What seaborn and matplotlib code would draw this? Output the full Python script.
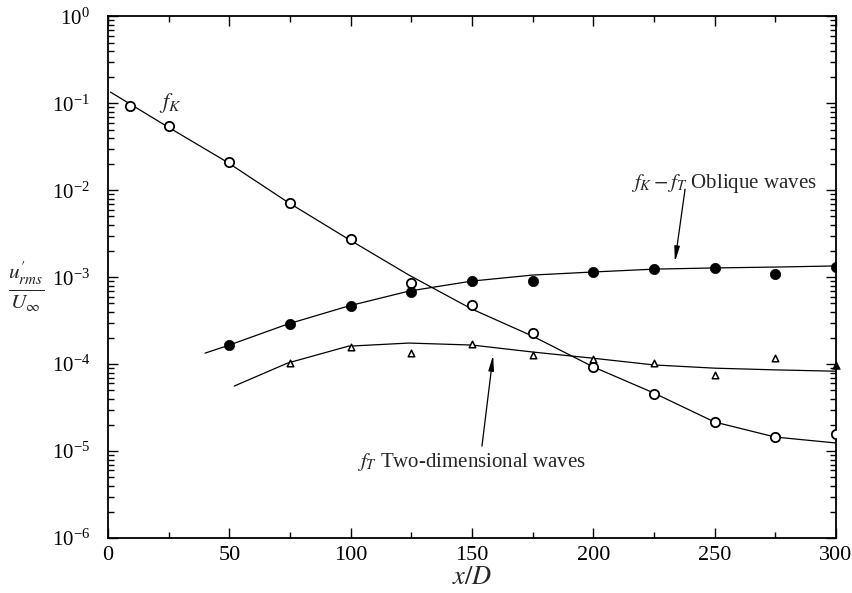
import numpy as np
import pandas as pd
import seaborn as sns
import matplotlib
matplotlib.use("Agg")
import matplotlib.pyplot as plt
from matplotlib.ticker import MultipleLocator, LogLocator, NullFormatter

# ---- data ----
# f_K (open circles)
fk_x = [9, 25, 50, 75, 100, 125, 150, 175, 200, 225, 250, 275, 300]
fk_y = [0.0933, 0.055, 0.0212, 0.00714, 0.00275, 8.6e-4, 4.8e-4, 2.28e-4,
        9.3e-5, 4.53e-5, 2.16e-5, 1.45e-5, 1.57e-5]
# f_K fitted curve
fk_cx = [1, 24, 49, 74, 99, 124, 150, 175, 200, 225, 250, 275, 300]
fk_cy = [0.135, 0.055, 0.0212, 0.00733, 0.00275, 0.00106, 4.3e-4, 2.1e-4,
         9.3e-5, 4.65e-5, 2.16e-5, 1.45e-5, 1.24e-5]

# f_K - f_T oblique waves (filled circles)
ob_x = [50, 75, 100, 125, 150, 175, 200, 225, 250, 275, 300]
ob_y = [1.66e-4, 2.9e-4, 4.66e-4, 6.76e-4, 9.04e-4, 9.0e-4, 1.15e-3,
        1.24e-3, 1.28e-3, 1.09e-3, 1.31e-3]
ob_cx = [40, 50, 74, 99, 124, 150, 175, 200, 225, 250, 275, 300]
ob_cy = [1.34e-4, 1.66e-4, 2.89e-4, 4.66e-4, 6.93e-4, 9.04e-4, 1.06e-3,
         1.15e-3, 1.24e-3, 1.28e-3, 1.31e-3, 1.35e-3]

# f_T two-dimensional waves (triangles)
ft_x = [75, 100, 125, 150, 175, 200, 225, 250, 275]
ft_y = [1.03e-4, 1.57e-4, 1.34e-4, 1.70e-4, 1.27e-4, 1.15e-4, 1.03e-4,
        7.5e-5, 1.17e-4]
ft_last_x = [300]
ft_last_y = [9.8e-5]
ft_cx = [52, 74, 99, 124, 150, 175, 200, 225, 250, 275, 300]
ft_cy = [5.6e-5, 1.03e-4, 1.61e-4, 1.75e-4, 1.66e-4, 1.38e-4, 1.17e-4,
         9.8e-5, 9.0e-5, 8.6e-5, 8.3e-5]

x_ticks = [0, 50, 100, 150, 200, 250, 300]

# ---- style ----
sns.set_style("ticks")
plt.rcParams["font.family"] = ["Liberation Serif", "DejaVu Serif"]
plt.rcParams["mathtext.fontset"] = "stix"

fig = plt.figure(figsize=(8.52, 5.93), dpi=100)
ax = fig.add_axes([0.1268, 0.0927, 0.9812 - 0.1268, 0.9722 - 0.0927])

lw = 0.9
sns.lineplot(x=fk_cx, y=fk_cy, ax=ax, color="black", lw=lw, sort=False)
sns.lineplot(x=ob_cx, y=ob_cy, ax=ax, color="black", lw=lw, sort=False)
sns.lineplot(x=ft_cx, y=ft_cy, ax=ax, color="black", lw=lw, sort=False)

sns.scatterplot(x=fk_x, y=fk_y, ax=ax, marker="o", s=45, facecolor="white",
                edgecolor="black", linewidth=1.3, zorder=5)
sns.scatterplot(x=ob_x, y=ob_y, ax=ax, marker="o", s=55, color="black",
                edgecolor="black", linewidth=0.5, zorder=5)
sns.scatterplot(x=ft_x, y=ft_y, ax=ax, marker="^", s=22, facecolor="white",
                edgecolor="black", linewidth=1.1, zorder=5)
sns.scatterplot(x=ft_last_x, y=ft_last_y, ax=ax, marker="^", s=30,
                color="black", edgecolor="black", linewidth=0.5, zorder=5,
                clip_on=False)

ax.set_yscale("log")
ax.set_xlim(0, 300)
ax.set_ylim(1e-6, 1)
ax.set_xticks(x_ticks)
ax.set_xticklabels([str(v) for v in x_ticks])
ax.xaxis.set_minor_locator(MultipleLocator(25))
ax.yaxis.set_major_locator(LogLocator(base=10, numticks=10))
ax.yaxis.set_minor_locator(LogLocator(base=10, subs=np.arange(2, 10), numticks=100))
ax.yaxis.set_minor_formatter(NullFormatter())

ax.tick_params(which="both", direction="in", top=True, right=True,
               width=1.0, colors="black")
ax.tick_params(axis="x", labelsize=16)
ax.tick_params(axis="y", labelsize=15)
ax.tick_params(which="major", length=7)
ax.tick_params(which="minor", length=4)
ax.tick_params(axis="y", which="major", pad=13)
ax.tick_params(axis="x", which="major", pad=6)
for sp in ax.spines.values():
    sp.set_linewidth(1.3)
    sp.set_color("black")

ax.set_xlabel(r"$x/D$", fontsize=19, labelpad=1)
ax.set_ylabel("")
fig.text(0.031, 0.516, r"$\frac{u^{\prime}_{rms}}{U_{\infty}}$", fontsize=22,
         ha="center", va="center")

ax.text(25.5, 0.101, r"$f_K$", fontsize=16, ha="center", va="center")
ax.text(215.5, 0.0121, r"$f_K - f_T$ Oblique waves", fontsize=15,
        ha="left", va="center")
ax.text(102.6, 7.47e-6, r"$f_T$ Two-dimensional waves", fontsize=15,
        ha="left", va="center")

arrow = dict(arrowstyle="-|>,head_length=0.9,head_width=0.16", color="black",
             lw=0.9, shrinkA=0, shrinkB=0)
ax.annotate("", xy=(233.6, 1.5e-3), xytext=(237.8, 0.0103), arrowprops=arrow)
ax.annotate("", xy=(158.7, 1.27e-4), xytext=(154.1, 1.14e-5), arrowprops=arrow)

fig.savefig("out.png", dpi=100)
